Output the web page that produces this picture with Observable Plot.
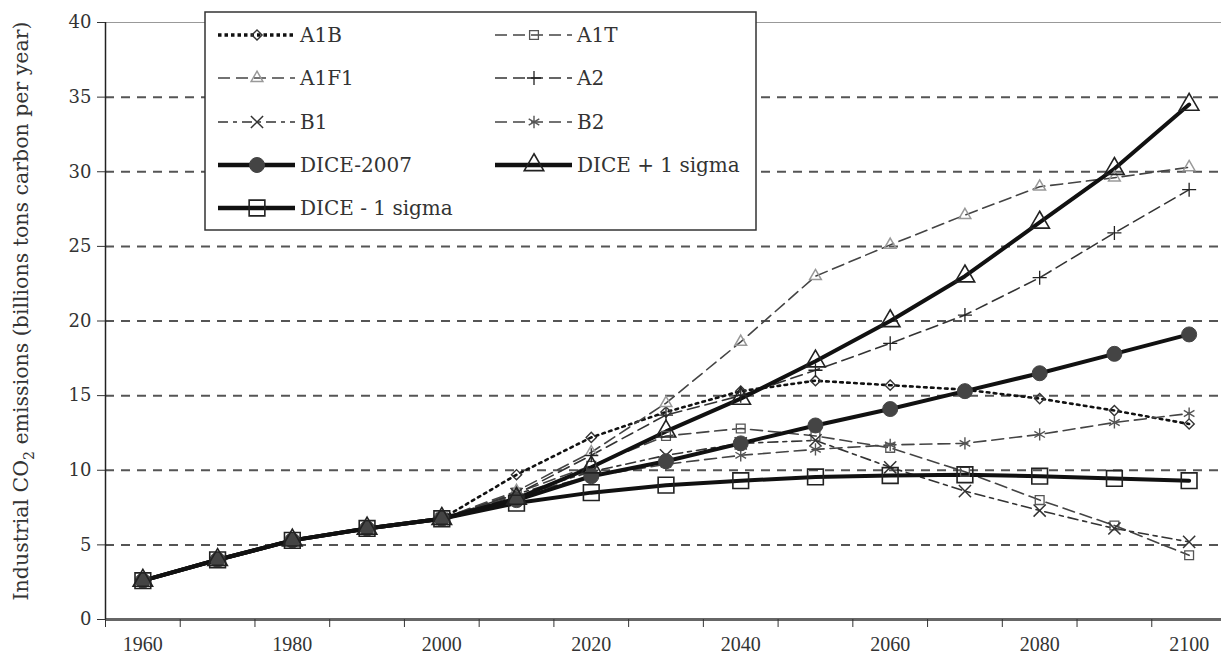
<!DOCTYPE html>
<html><head><meta charset="utf-8">
<script src="https://cdn.jsdelivr.net/npm/d3@7"></script>
<script src="https://cdn.jsdelivr.net/npm/@observablehq/plot@0.6"></script>
<style>
body{margin:0;background:#fff;}
#chart{position:relative;width:1221px;height:657px;}
</style></head><body><div id="chart"></div>
<script>
// ---- data ----
const diceYears = [1960,1970,1980,1990,2000,2010,2020,2030,2040,2050,2060,2070,2080,2090,2100];
const scenarioYears = [2000,2010,2020,2030,2040,2050,2060,2070,2080,2090,2100];
const dice2007  = [2.6,4.0,5.3,6.1,6.75,8.0,9.6,10.6,11.8,13.0,14.1,15.3,16.5,17.8,19.1];
const dicePlus  = [2.6,4.0,5.3,6.1,6.75,8.1,10.2,12.6,14.8,17.3,20.0,23.0,26.6,30.2,34.5];
const diceMinus = [2.6,4.0,5.3,6.1,6.75,7.8,8.5,9.0,9.3,9.55,9.65,9.7,9.6,9.45,9.3];
const A1B  = [6.75,9.7,12.2,13.9,15.3,16.0,15.7,15.4,14.8,14.0,13.1];
const A1T  = [6.75,8.5,10.3,12.3,12.8,12.3,11.5,9.9,8.0,6.3,4.3];
const A1F1 = [6.75,8.6,11.2,14.5,18.6,23.0,25.1,27.1,29.0,29.6,30.3];
const A2   = [6.75,8.4,11.0,13.7,15.0,16.7,18.5,20.4,22.9,25.9,28.8];
const B1   = [6.75,8.4,9.9,11.0,11.8,12.0,10.2,8.6,7.3,6.1,5.2];
const B2   = [6.75,8.3,9.6,10.4,11.0,11.4,11.7,11.8,12.4,13.2,13.8];
const seriesNames = ["A1B","A1T","A1F1","A2","B1","B2","DICE-2007","DICE + 1 sigma","DICE - 1 sigma"];
const seriesValues = [A1B,A1T,A1F1,A2,B1,B2,dice2007,dicePlus,diceMinus];
const yTicks = [0,5,10,15,20,25,30,35,40];
const gridValues = [5,10,15,20,25,30,35];
const xTickLabels = [1960,1980,2000,2020,2040,2060,2080,2100];
const yTitle = ["Industrial CO","2"," emissions (billions tons carbon per year)"];

// ---- styles ----
const styles = {
  "A1B":  {stroke:"#111", width:2.6, dash:"2.6,4.4", symbol:"diamond2", r:4.6, mstroke:"#333", mfill:"none", mwidth:1.4},
  "A1T":  {stroke:"#444", width:1.6, dash:"12,6", symbol:"square2", r:5.6, mstroke:"#555", mfill:"none", mwidth:1.3},
  "A1F1": {stroke:"#444", width:1.6, dash:"12,6", symbol:"triangle2", r:5.6, mstroke:"#999", mfill:"none", mwidth:1.5},
  "A2":   {stroke:"#333", width:1.6, dash:"12,6", symbol:"plus", r:4.6, mstroke:"#222", mfill:"none", mwidth:1.3},
  "B1":   {stroke:"#333", width:1.6, dash:"10,5,4,5", symbol:"times", r:5.6, mstroke:"#333", mfill:"none", mwidth:1.5},
  "B2":   {stroke:"#444", width:1.6, dash:"12,6", symbol:"asterisk", r:5.8, mstroke:"#555", mfill:"none", mwidth:1.4},
  "DICE-2007":      {stroke:"#111", width:4, dash:null, symbol:"circle", r:7.5, mstroke:"#444", mfill:"#444", mwidth:1},
  "DICE + 1 sigma": {stroke:"#111", width:4, dash:null, symbol:"triangle2", r:9.3, mstroke:"#222", mfill:"none", mwidth:1.6},
  "DICE - 1 sigma": {stroke:"#111", width:4, dash:null, symbol:"square2", r:10, mstroke:"#222", mfill:"none", mwidth:1.6}
};

const rows = [];
seriesNames.forEach((name, i) => {
  const yrs = seriesValues[i].length === diceYears.length ? diceYears : scenarioYears;
  seriesValues[i].forEach((v, j) => rows.push({series: name, year: yrs[j], value: v}));
});

const boundaries = diceYears.map(y => y - 5).concat([diceYears[diceYears.length-1] + 5]);
const textColor = "#333";
const serif = "DejaVu Serif";

const marks = [
  Plot.ruleY(gridValues, {stroke:"#555", strokeWidth:2, strokeDasharray:"9,7"}),
  Plot.ruleY([40], {stroke:"#999", strokeWidth:1})
];
seriesNames.forEach(name => {
  const s = styles[name];
  marks.push(Plot.line(rows.filter(d => d.series === name), {
    x:"year", y:"value", stroke:s.stroke, strokeWidth:s.width,
    strokeDasharray: s.dash || undefined, strokeLinejoin:"round"
  }));
});
seriesNames.forEach(name => {
  const s = styles[name];
  marks.push(Plot.dot(rows.filter(d => d.series === name), {
    x:"year", y:"value", symbol: s.symbol, r: s.r, stroke: s.mstroke, fill: s.mfill, strokeWidth: s.mwidth
  }));
});
marks.push(
  Plot.ruleY([0], {stroke:"#666", strokeWidth:3}),
  Plot.ruleX([boundaries[0]], {y1:0, y2:40, stroke:"#222", strokeWidth:1.5}),
  Plot.axisY({ticks: yTicks, tickSize: 8, tickPadding: 6, color: textColor, label: null}),
  Plot.axisX({ticks: boundaries, tickSize: 8, tickFormat: () => "", stroke:"#333", label: null}),
  Plot.axisX({ticks: xTickLabels, tickSize: 0, tickPadding: 17, tickFormat: d => String(d), color: textColor, label: null})
);

const chart = Plot.plot({
  width: 1221, height: 657,
  marginTop: 22, marginBottom: 38, marginLeft: 105, marginRight: 0,
  x: {domain: [boundaries[0], boundaries[boundaries.length-1]], range: [105, 1226]},
  y: {domain: [0, 40]},
  style: {background: "white", overflow: "visible"},
  marks
});
document.getElementById("chart").appendChild(chart);

const svg = d3.select(chart);
// axis label fonts (set directly on each tick text)
const xLabelSet = new Set(xTickLabels.map(String));
const yLabelSet = new Set(yTicks.map(String));
svg.selectAll("text").each(function() {
  const s = this.textContent.trim();
  if (xLabelSet.has(s)) {
    d3.select(this).attr("font-size", 20).attr("font-family", "Liberation Serif")
      .style("font-size", "20px", "important").style("font-family", "'Liberation Serif'", "important").attr("fill", textColor);
  } else if (yLabelSet.has(s)) {
    d3.select(this).attr("font-size", 18).attr("font-family", serif)
      .style("font-size", "18px", "important").style("font-family", "'DejaVu Serif'", "important").attr("fill", textColor);
  }
});

// ---- y-axis title ----
const t = svg.append("text")
  .attr("transform", "translate(22,311) rotate(-90)")
  .style("text-anchor", "middle")
  .attr("dominant-baseline", "middle")
  .style("font-family", serif).style("font-size", "20.5px").attr("fill", textColor);
t.append("tspan").text(yTitle[0]);
t.append("tspan").attr("baseline-shift", "sub").style("font-size", "14px").text(yTitle[1]);
t.append("tspan").text(yTitle[2]);

// ---- legend ----
const symbolMap = {diamond2: d3.symbolDiamond2, square2: d3.symbolSquare2, triangle2: d3.symbolTriangle2,
  plus: d3.symbolPlus, times: d3.symbolTimes, asterisk: d3.symbolAsterisk, circle: d3.symbolCircle};
const lg = svg.append("g").style("text-anchor", "start");
lg.append("rect").attr("x", 205).attr("y", 12).attr("width", 551).attr("height", 218)
  .attr("fill", "white").attr("stroke", "#333").attr("stroke-width", 1.5);
const colX = [218, 495];
const rowY = [35, 78, 122, 165, 208];
seriesNames.forEach((name, i) => {
  const s = styles[name];
  const x0 = colX[i % 2], y0 = rowY[Math.floor(i / 2)];
  const g = lg.append("g");
  g.append("line").attr("x1", x0).attr("x2", x0 + 77).attr("y1", y0).attr("y2", y0)
    .attr("stroke", s.stroke).attr("stroke-width", s.width === 4 ? 4.5 : (name === "A1B" ? 3.5 : s.width))
    .attr("stroke-dasharray", s.dash ? (name === "A1B" ? "3.5,3" : s.dash) : null);
  g.append("path").attr("transform", `translate(${x0 + 39},${y0})`)
    .attr("d", d3.symbol(symbolMap[s.symbol], Math.PI * s.r * s.r)())
    .attr("fill", s.mfill).attr("stroke", s.mstroke).attr("stroke-width", s.mwidth);
  g.append("text").attr("x", x0 + 82).attr("y", y0).attr("dy", "0.36em")
    .style("text-anchor", "start")
    .style("font-family", serif).style("font-size", "20px").attr("fill", textColor).text(name);
});
</script>
</body></html>
